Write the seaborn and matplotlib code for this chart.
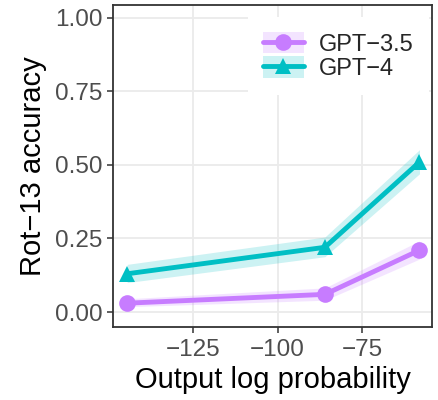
import matplotlib
matplotlib.use("Agg")
import matplotlib.pyplot as plt
from matplotlib.patches import Patch
from matplotlib.lines import Line2D
import seaborn as sns
import pandas as pd

# values
models = ["GPT\u22123.5", "GPT\u22124"]
log_prob = [-144.5, -86.0, -58.0]
acc_gpt35 = [0.03, 0.06, 0.21]
lo_gpt35 = [0.018, 0.040, 0.180]
hi_gpt35 = [0.045, 0.082, 0.242]
acc_gpt4 = [0.13, 0.22, 0.51]
lo_gpt4 = [0.100, 0.188, 0.470]
hi_gpt4 = [0.162, 0.255, 0.552]

colors = {models[0]: "#C77CFF", models[1]: "#00BFC4"}
markers = {models[0]: "o", models[1]: "^"}

df = pd.DataFrame({
    "logp": log_prob * 2,
    "acc": acc_gpt35 + acc_gpt4,
    "lo": lo_gpt35 + lo_gpt4,
    "hi": hi_gpt35 + hi_gpt4,
    "model": [models[0]] * 3 + [models[1]] * 3,
})

sns.set_theme(style="white")
plt.rcParams["font.family"] = ["Liberation Sans", "DejaVu Sans"]

fig = plt.figure(figsize=(4.39, 4.0), dpi=100)
ax = fig.add_axes([113 / 439, 1 - 327 / 400, 319 / 439, 322 / 400])

for m in models:
    d = df[df.model == m]
    ax.fill_between(d.logp, d.lo, d.hi, color=colors[m], alpha=0.2, lw=0, zorder=2)

sns.lineplot(data=df, x="logp", y="acc", hue="model", style="model",
             palette=colors, markers=markers, dashes=False, lw=3.5,
             markersize=12, markeredgewidth=0, legend=False, ax=ax, zorder=3)

ax.set_xlim(-148.7, -54.3)
ax.set_ylim(-0.051, 1.044)
ax.set_xticks([-125, -100, -75])
ax.set_xticklabels(["\u2212125", "\u2212100", "\u221275"])
ax.set_yticks([0, 0.25, 0.5, 0.75, 1.0])
ax.set_yticklabels(["0.00", "0.25", "0.50", "0.75", "1.00"])
ax.grid(True, color="#EBEBEB", lw=1.3, zorder=0)
ax.set_axisbelow(True)
for s in ax.spines.values():
    s.set_color("#333333")
    s.set_linewidth(1.3)
ax.tick_params(axis="both", length=4.5, width=1.1, color="#333333",
               labelsize=17.5, labelcolor="#4D4D4D", bottom=True, left=True)
ax.tick_params(axis="y", pad=3)
ax.tick_params(axis="x", pad=4)

ax.set_xlabel("Output log probability", fontsize=21, color="black", labelpad=4)
ax.set_ylabel("Rot\u221213 accuracy", fontsize=21, color="black", labelpad=6)

handles = [(Patch(facecolor=colors[m], alpha=0.2, edgecolor="none"),
            Line2D([], [], color=colors[m], lw=3.5, marker=markers[m],
                   markersize=12, markeredgewidth=0)) for m in models]
leg = ax.legend(handles, models, loc="upper right",
                bbox_to_anchor=((429 - 113) / 319, (327 - 17) / 322),
                borderaxespad=0, fontsize=17, frameon=True, fancybox=False,
                handlelength=1.7, handleheight=1.0, labelspacing=0.02,
                handletextpad=0.65, borderpad=0.65)
leg.get_frame().set_facecolor("white")
leg.get_frame().set_edgecolor("none")
leg.get_frame().set_alpha(1)

fig.savefig("out.png", dpi=100)
